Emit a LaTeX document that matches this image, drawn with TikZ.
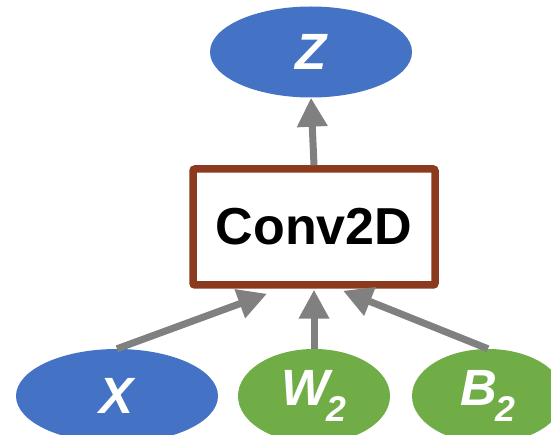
\documentclass[tikz,border=0pt]{standalone}
\usepackage{fontspec}
\setmainfont{Liberation Sans}
\usetikzlibrary{shapes.geometric,arrows.meta}
\definecolor{nodeblue}{HTML}{4472C4}
\definecolor{nodegreen}{HTML}{70AD47}
\definecolor{boxbrown}{HTML}{8B3A1E}
\definecolor{arrowgray}{HTML}{808080}
\tikzset{
  var/.style={ellipse, inner sep=0pt, text=white, font=\fontsize{51}{60}\selectfont\bfseries\itshape},
  bluevar/.style={var, fill=nodeblue},
  greenvar/.style={var, fill=nodegreen},
  opbox/.style={rectangle, rounded corners=2pt, draw=boxbrown, fill=white, line width=7.5pt, minimum width=242pt, minimum height=116pt, font=\fontsize{52}{62}\selectfont\bfseries},
  flow/.style={draw=arrowgray, line width=7pt, -{Triangle[length=29pt,width=29pt]}}
}
\begin{document}
\begin{tikzpicture}[x=1pt,y=-1pt]
\useasboundingbox (0,0) rectangle (551,435);
\node[bluevar, minimum width=202pt, minimum height=91pt] (z) at (311,52) {Z};
\node[opbox] (conv) at (314,227) {Conv2D};
\node[bluevar, minimum width=202pt, minimum height=94pt] (x) at (117,396) {X};
\node[greenvar, minimum width=152pt, minimum height=94pt] (w) at (314,396) {W\kern-3pt\textsubscript{2}};
\node[greenvar, minimum width=152pt, minimum height=94pt] (b) at (488,396) {B\kern-2pt\textsubscript{2}};
\draw[flow] (conv.north) -- (z.south);
\draw[flow] (x.north) -- ([xshift=-47pt,yshift=-5pt]conv.south);
\draw[flow] (w.north) -- ([yshift=-1pt]conv.south);
\draw[flow] (b.north) -- ([xshift=29pt,yshift=-2pt]conv.south);
\end{tikzpicture}
\end{document}
